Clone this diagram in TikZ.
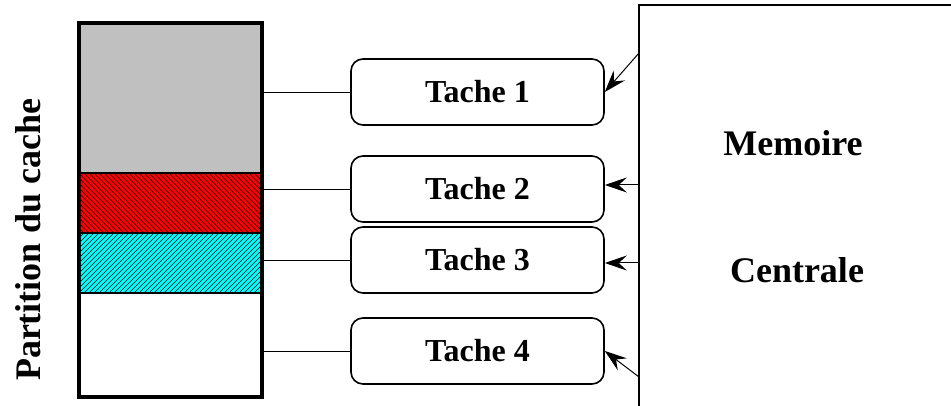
\documentclass[tikz,border=0pt]{standalone}
\usepackage{fontspec}
\setmainfont{Liberation Serif}
\usetikzlibrary{arrows.meta}
\definecolor{silver}{RGB}{192,192,192}
\definecolor{hred}{RGB}{255,0,0}
\definecolor{hcyan}{RGB}{0,255,255}
\begin{document}
\begin{tikzpicture}[x=1pt,y=-1pt,
  task/.style={draw, line width=1.6pt, rounded corners=12pt, minimum width=253pt,
    minimum height=66pt, inner sep=0pt, font=\fontsize{32}{36}\selectfont\bfseries},
  big/.style={inner sep=0pt, font=\fontsize{36}{42}\selectfont\bfseries},
  conn/.style={line width=0.9pt},
  arr/.style={line width=1pt, -{Stealth[length=22pt,width=15pt,inset=8pt]}},
  hatch/.style={line width=0.4pt, black},
  sep/.style={line width=1.8pt}]
\useasboundingbox (0,0) rectangle (951,406);
% cache partition bar
\fill[silver] (79,23) rectangle (262,173);
\fill[hred] (79,173) rectangle (262,233);
\begin{scope}
  \clip (79,173) rectangle (262,233);
  \foreach \x in {19,24,...,266} \draw[hatch] (\x,173) -- (\x+60,233);
\end{scope}
\fill[hcyan] (79,233) rectangle (262,293);
\begin{scope}
  \clip (79,233) rectangle (262,293);
  \foreach \x in {19,24,...,266} \draw[hatch] (\x,293) -- (\x+60,233);
\end{scope}
\draw[sep] (79,173) -- (262,173);
\draw[sep] (79,233) -- (262,233);
\draw[sep] (79,293) -- (262,293);
\node[draw, line width=3.5pt, minimum width=183pt, minimum height=374pt, inner sep=0pt] (bar) at (170.5,210) {};
\node[big, rotate=90] (part) at (28,240) {Partition du cache};
% tasks
\node[task] (t1) at (477.5,92) {Tache 1};
\node[task] (t2) at (477.5,189) {Tache 2};
\node[task] (t3) at (477.5,260) {Tache 3};
\node[task] (t4) at (477.5,351) {Tache 4};
\foreach \t in {t1,t2,t3,t4} \draw[conn] (\t.west) -- (\t.west -| bar.east);
% main memory
\draw[line width=1.2pt] (639,406) |- (951,5);
\node[big] (mem) at (793,143) {Memoire};
\node[big] (cen) at (797,270) {Centrale};
\coordinate (m1) at (639,53);
\coordinate (m2) at (639,185);
\coordinate (m3) at (639,263);
\coordinate (m4) at (639,377);
\draw[arr] (m1) -- (t1.east);
\draw[arr] (m2) -- (m2 -| t2.east);
\draw[arr] (m3) -- (m3 -| t3.east);
\draw[arr] (m4) -- (t4.east);
\end{tikzpicture}
\end{document}
